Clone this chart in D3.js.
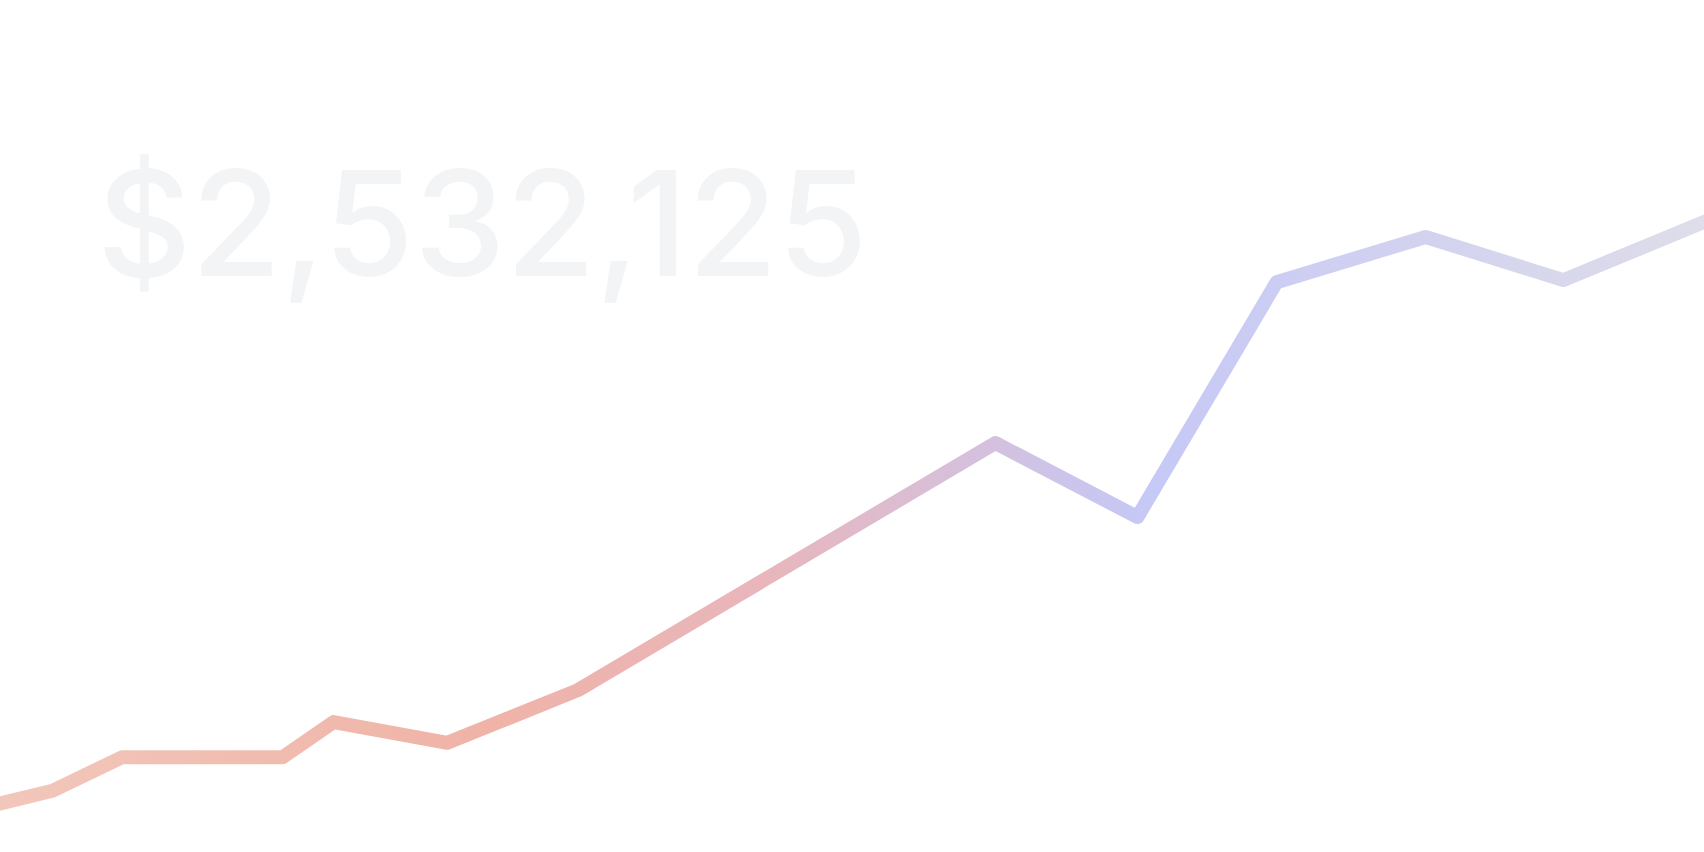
<!DOCTYPE html>
<html>
<head>
<meta charset="utf-8">
<script src="https://cdn.jsdelivr.net/npm/d3@7"></script>
<style>
    body { margin: 0; background: #ffffff; overflow: hidden; }
</style>
</head>
<body>
<script>
const width = 1704;
const height = 852;

// time (days) and balance (thousands of $)
const days = [-2.8, 3.7, 8.6, 19.9, 23.5, 31.5, 40.7, 70.1, 80.1, 89.9, 100.4, 110.1, 123.9];
const balance = [1073, 1115, 1178, 1178, 1244, 1205, 1304, 1768, 1629, 2070, 2155, 2074, 2226];
const total = '$2,532,125';

const gradientStops = [
    { offset: '0%', color: '#f2c7bb' },
    { offset: '28%', color: '#f0b3a7' },
    { offset: '45%', color: '#e8b6bc' },
    { offset: '67%', color: '#c6c8f6' },
    { offset: '100%', color: '#dedde9' }
];

const data = days.map((d, i) => ({ x: d, y: balance[i] }));

const svg = d3.select('body').append('svg')
    .attr('width', width)
    .attr('height', height);

const xScale = d3.scaleLinear()
    .domain([0, 120])
    .range([0, width]);
const yScale = d3.scaleLinear()
    .domain([1000, 2600])
    .range([height, 0]);

// horizontal gradient along the line
const grad = svg.append('defs').append('linearGradient')
    .attr('id', 'line-grad')
    .attr('gradientUnits', 'userSpaceOnUse')
    .attr('x1', 0).attr('y1', 0)
    .attr('x2', width).attr('y2', 0);

grad.selectAll('stop')
    .data(gradientStops)
    .enter().append('stop')
    .attr('offset', d => d.offset)
    .attr('stop-color', d => d.color);

// big total
svg.append('text')
    .attr('x', 97)
    .attr('y', 276)
    .style('font-family', 'Inter, "Noto Sans", sans-serif')
    .style('font-size', '146px')
    .style('font-weight', 500)
    .style('fill', '#f3f4f6')
    .text(total);

const line = d3.line()
    .x(d => xScale(d.x))
    .y(d => yScale(d.y));

svg.append('path')
    .attr('d', line(data))
    .style('fill', 'none')
    .style('stroke', 'url(#line-grad)')
    .style('stroke-width', 14)
    .style('stroke-linejoin', 'round')
    .style('stroke-linecap', 'round');
</script>
</body>
</html>
